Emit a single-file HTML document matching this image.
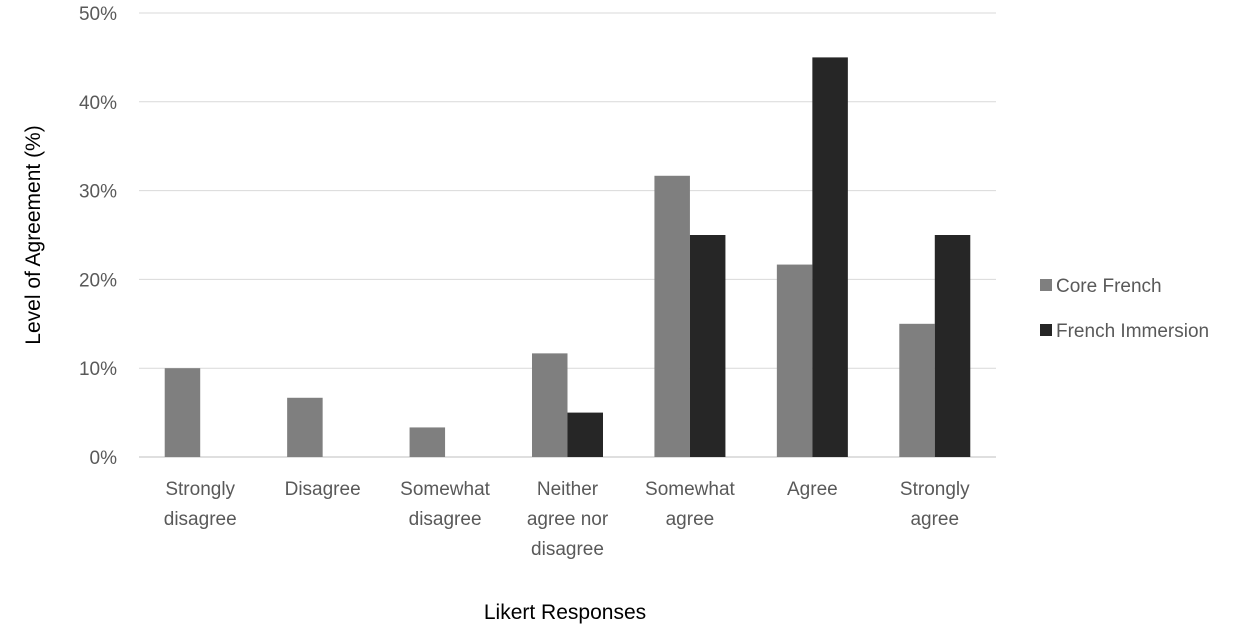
<!DOCTYPE html>
<html><head><meta charset="utf-8"><style>
body{margin:0;background:#fff;}
svg text{font-family:"Liberation Sans",sans-serif;}
</style></head><body>
<svg id="c" width="1252" height="634"></svg>
<script>
const categories=[["Strongly","disagree"],["Disagree"],["Somewhat","disagree"],["Neither","agree nor","disagree"],["Somewhat","agree"],["Agree"],["Strongly","agree"]];
const coreFrench=[10,6.67,3.33,11.67,31.67,21.67,15];
const frenchImmersion=[0,0,0,5,25,45,25];
const yTicks=[0,10,20,30,40,50];
const seriesNames=["Core French","French Immersion"];
const colors=["#7f7f7f","#262626"];
const NS="http://www.w3.org/2000/svg";
const svg=document.getElementById('c');
const x0=139,x1=996,y0=457,yTop=13;
const band=(x1-x0)/categories.length;
const y=v=>y0-(v/50)*(y0-yTop);
const xc=i=>x0+band*(i+0.5);
function mk(t,a){const e=document.createElementNS(NS,t);for(const k in a)e.setAttribute(k,a[k]);svg.appendChild(e);return e;}
yTicks.forEach(t=>{
 const g=mk('line',{x1:x0,x2:x1,y1:y(t),y2:y(t),stroke:t===0?'#bfbfbf':'#d9d9d9','stroke-width':1});
 
 
 const l=mk('text',{x:117,y:y(t)+7,'text-anchor':'end','font-size':19,fill:'#595959'});
 l.textContent=t+'%';
 
 
});
const bw=35.5;
[coreFrench,frenchImmersion].forEach((s,si)=>{
 s.forEach((v,i)=>{
  const bx=si===0?xc(i)-bw:xc(i);
  const r=mk('rect',{x:bx,y:y(v),width:bw,height:y0-y(v),fill:colors[si]});
  
  
 });
});
categories.forEach((lines,i)=>{
 lines.forEach((ln,j)=>{
  const t=mk('text',{x:xc(i),y:495+j*30,'text-anchor':'middle','font-size':19,fill:'#595959'});
  t.textContent=ln;
  
  
 });
});
const xt=mk('text',{x:565,y:619,'text-anchor':'middle','font-size':21,fill:'#000'});
xt.textContent='Likert Responses';


const yt=mk('text',{x:0,y:0,'text-anchor':'middle','font-size':21,fill:'#000',transform:'translate(40,235) rotate(-90)'});
yt.textContent='Level of Agreement (%)';


seriesNames.forEach((n,i)=>{
 const yy=286+i*45;
 const r=mk('rect',{x:1040,y:yy-7,width:12,height:12,fill:colors[i]});
 
 
 const t=mk('text',{x:1056,y:yy+6,'font-size':19,fill:'#595959'});
 t.textContent=n;
 
 
});
</script>
</body></html>
